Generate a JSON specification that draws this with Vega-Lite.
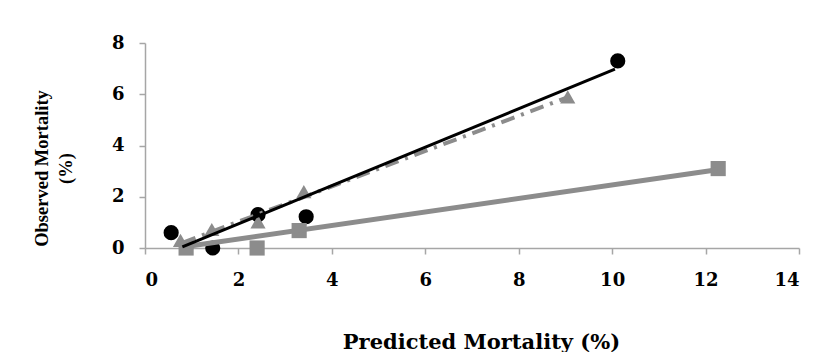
{
  "$schema": "https://vega.github.io/schema/vega-lite/v6.json",
  "autosize": "none",
  "width": 654,
  "height": 205,
  "padding": {"left": 145, "top": 43, "right": 25, "bottom": 104},
  "background": "white",
  "config": {
    "view": {"stroke": null},
    "axis": {
      "grid": false,
      "domainColor": "#a6a6a6",
      "tickColor": "#a6a6a6",
      "domainWidth": 1.5,
      "tickWidth": 1.5,
      "tickSize": 6,
      "labelFont": "DejaVu Serif",
      "labelFontWeight": "bold",
      "labelFontSize": 18,
      "labelColor": "#000000",
      "titleFont": "DejaVu Serif",
      "titleFontWeight": "bold",
      "titleFontSize": 21,
      "titleColor": "#000000"
    }
  },
  "datasets": {
    "pts": [
      {"series": "A", "x": 0.56, "y": 0.6},
      {"series": "A", "x": 1.45, "y": 0.0},
      {"series": "A", "x": 2.42, "y": 1.3},
      {"series": "A", "x": 3.45, "y": 1.22},
      {"series": "A", "x": 10.12, "y": 7.3},
      {"series": "B", "x": 0.76, "y": 0.3},
      {"series": "B", "x": 1.43, "y": 0.72},
      {"series": "B", "x": 2.42, "y": 1.02},
      {"series": "B", "x": 3.4, "y": 2.2},
      {"series": "B", "x": 9.05, "y": 5.9},
      {"series": "C", "x": 0.88, "y": 0.0},
      {"series": "C", "x": 2.4, "y": 0.0},
      {"series": "C", "x": 3.3, "y": 0.68},
      {"series": "C", "x": 12.27, "y": 3.1}
    ],
    "fits": [
      {"series": "C", "x": 0.85, "y": 0.05},
      {"series": "C", "x": 12.25, "y": 3.05},
      {"series": "B", "x": 0.8, "y": 0.2},
      {"series": "B", "x": 9.0, "y": 5.85},
      {"series": "A", "x": 0.8, "y": 0.04},
      {"series": "A", "x": 10.06, "y": 6.98}
    ]
  },
  "layer": [
    {
      "data": {"name": "pts"},
      "mark": {"type": "point", "filled": true, "opacity": 1, "size": 230},
      "encoding": {
        "x": {
          "field": "x", "type": "quantitative",
          "scale": {"domain": [0, 14], "nice": false, "zero": false},
          "axis": {"values": [0, 2, 4, 6, 8, 10, 12, 14], "labelPadding": 17, "title": "Predicted Mortality (%)", "titleX": 336, "titleY": 100, "titleBaseline": "alphabetic"}
        },
        "y": {
          "field": "y", "type": "quantitative",
          "scale": {"domain": [0, 8], "nice": false},
          "axis": {"values": [0, 2, 4, 6, 8], "labelPadding": 15, "title": ["Observed Mortality", "(%)"], "titleFont": "Liberation Serif", "titleFontSize": 18.5, "titleX": -94, "titleY": 125, "titleLineHeight": 24}
        },
        "shape": {"field": "series", "type": "nominal", "legend": null,
          "scale": {"domain": ["A", "B", "C"], "range": ["circle", "triangle-up", "square"]}},
        "color": {"field": "series", "type": "nominal", "legend": null,
          "scale": {"domain": ["A", "B", "C"], "range": ["#000000", "#8c8c8c", "#8c8c8c"]}}
      }
    },
    {
      "data": {"name": "fits"},
      "transform": [{"filter": "datum.series === 'C'"}],
      "mark": {"type": "line", "color": "#8c8c8c", "strokeWidth": 5},
      "encoding": {
        "x": {"field": "x", "type": "quantitative"},
        "y": {"field": "y", "type": "quantitative"}
      }
    },
    {
      "data": {"name": "fits"},
      "transform": [{"filter": "datum.series === 'B'"}],
      "mark": {"type": "line", "color": "#8c8c8c", "strokeWidth": 4, "strokeDash": [14, 7, 3, 7]},
      "encoding": {
        "x": {"field": "x", "type": "quantitative"},
        "y": {"field": "y", "type": "quantitative"}
      }
    },
    {
      "data": {"name": "fits"},
      "transform": [{"filter": "datum.series === 'A'"}],
      "mark": {"type": "line", "color": "#000000", "strokeWidth": 3},
      "encoding": {
        "x": {"field": "x", "type": "quantitative"},
        "y": {"field": "y", "type": "quantitative"}
      }
    }
  ]
}
